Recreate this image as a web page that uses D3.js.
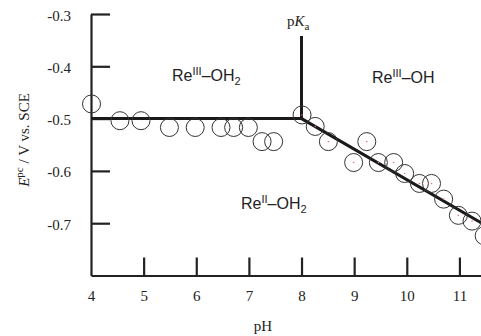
<!DOCTYPE html>
<html>
<head>
<meta charset="utf-8">
<script src="https://cdn.jsdelivr.net/npm/d3@7"></script>
<style>
  body { margin: 0; background: #fff; }
  svg { display: block; }
</style>
</head>
<body>
<svg id="chart" width="481" height="336"></svg>
<script>
var SERIF = "'Liberation Serif', 'DejaVu Serif', serif";
var SANS = "'Liberation Sans', Arial, sans-serif";

// measured points (pH, Epc / V vs SCE)
var phData  = [4.01, 4.55, 4.95, 5.49, 5.98, 6.47, 6.71, 6.99, 7.25, 7.47,
               8.01, 8.26, 8.51, 8.99, 9.24, 9.46, 9.75, 9.96, 10.24, 10.47,
               10.70, 10.98, 11.24, 11.47];
var epcData = [-0.472, -0.504, -0.504, -0.517, -0.517, -0.517, -0.517, -0.517, -0.544, -0.544,
               -0.493, -0.515, -0.544, -0.584, -0.544, -0.584, -0.584, -0.605, -0.624, -0.624,
               -0.654, -0.685, -0.696, -0.724];

// fitted Pourbaix lines
var fitPH = [4, 8, 11.41];
var fitE  = [-0.5, -0.5, -0.699];
var pkaPH = [8, 8];
var pkaE  = [-0.5, -0.342];

var xTicks = [4, 5, 6, 7, 8, 9, 10, 11];
var yTicks = [-0.3, -0.4, -0.5, -0.6, -0.7];

var svg = d3.select("#chart");

var x = d3.scaleLinear().domain([4, 11.41]).range([91, 481]);
var y = d3.scaleLinear().domain([-0.8, -0.3]).range([275.5, 14]);

// x axis, ticks pointing up
var xAxis = svg.append("g")
  .attr("transform", "translate(0," + y(-0.8) + ")")
  .call(d3.axisBottom(x).tickValues(xTicks).tickSize(-18).tickSizeOuter(0).tickPadding(15)
    .tickFormat(function (d) { return String(d); }));

// y axis, ticks pointing right
var yAxis = svg.append("g")
  .attr("transform", "translate(" + x(4) + ",0)")
  .call(d3.axisLeft(y).tickValues(yTicks).tickSize(-19).tickSizeOuter(0).tickPadding(20)
    .tickFormat(function (d) { return d.toFixed(1); }));

svg.selectAll("g").attr("font-family", SERIF).attr("font-size", 15);
svg.selectAll(".domain").attr("stroke", "#222").attr("stroke-width", 2.2);
svg.selectAll(".tick line").attr("stroke", "#222").attr("stroke-width", 2.2);
svg.selectAll(".tick text")
  .attr("font-family", SERIF)
  .attr("font-size", 15)
  .attr("fill", "#222");
yAxis.selectAll(".tick text").attr("dy", "0.4em");
// the 4 tick sits on the y axis
xAxis.selectAll(".tick line").filter(function (d) { return d === 4; }).remove();

// axis titles
svg.append("text")
  .attr("font-family", SERIF)
  .attr("x", 263).attr("y", 331)
  .attr("text-anchor", "middle")
  .attr("font-size", 15)
  .attr("fill", "#222")
  .text("pH");

var yt = svg.append("text")
  .attr("font-family", SERIF)
  .attr("transform", "translate(29,140) rotate(-90)")
  .attr("text-anchor", "middle")
  .attr("font-size", 15)
  .attr("fill", "#222");
yt.append("tspan").attr("font-style", "italic").text("E");
yt.append("tspan").attr("font-size", 11).attr("dy", -6).text("pc");
yt.append("tspan").attr("dy", 6).text(" / V vs. SCE");

// fitted lines
var line = d3.line()
  .x(function (d) { return x(d[0]); })
  .y(function (d) { return y(d[1]); });

svg.append("path")
  .datum(d3.zip(fitPH, fitE))
  .attr("d", line)
  .attr("fill", "none")
  .attr("stroke", "#1a1a1a")
  .attr("stroke-width", 3);

svg.append("path")
  .datum(d3.zip(pkaPH, pkaE))
  .attr("d", line)
  .attr("fill", "none")
  .attr("stroke", "#1a1a1a")
  .attr("stroke-width", 3);

// data circles
var pts = d3.zip(phData, epcData);
svg.selectAll("circle.pt")
  .data(pts).enter()
  .append("circle")
  .attr("class", "pt")
  .attr("cx", function (d) { return x(d[0]); })
  .attr("cy", function (d) { return y(d[1]); })
  .attr("r", 9)
  .attr("fill", "none")
  .attr("stroke", "#333")
  .attr("stroke-width", 1);

svg.selectAll("circle.dot")
  .data(pts.filter(function (d) { return d[0] > 7.9; })).enter()
  .append("circle")
  .attr("class", "dot")
  .attr("cx", function (d) { return x(d[0]); })
  .attr("cy", function (d) { return y(d[1]); })
  .attr("r", 0.8)
  .attr("fill", "#f26d6d");

// pKa label
var pk = svg.append("text")
  .attr("font-family", SERIF)
  .attr("x", 287).attr("y", 26)
  .attr("font-size", 15)
  .attr("fill", "#222");
pk.append("tspan").text("p");
pk.append("tspan").attr("font-style", "italic").text("K");
pk.append("tspan").attr("font-size", 11).attr("dy", 4).text("a");

// species labels
function species(px, py, sup, sub, tail) {
  var t = svg.append("text")
    .attr("font-family", SANS)
    .attr("x", px).attr("y", py)
    .attr("font-size", 16)
    .attr("fill", "#222");
  t.append("tspan").text("Re");
  t.append("tspan").attr("font-size", 11).attr("dy", -6).text(sup);
  t.append("tspan").attr("dy", 6).text("\u2013" + tail);
  if (sub) t.append("tspan").attr("font-size", 11).attr("dy", 4).text(sub);
}
species(172, 81, "III", "2", "OH");
species(372, 83, "III", null, "OH");
species(241, 209, "II", "2", "OH");
</script>
</body>
</html>
